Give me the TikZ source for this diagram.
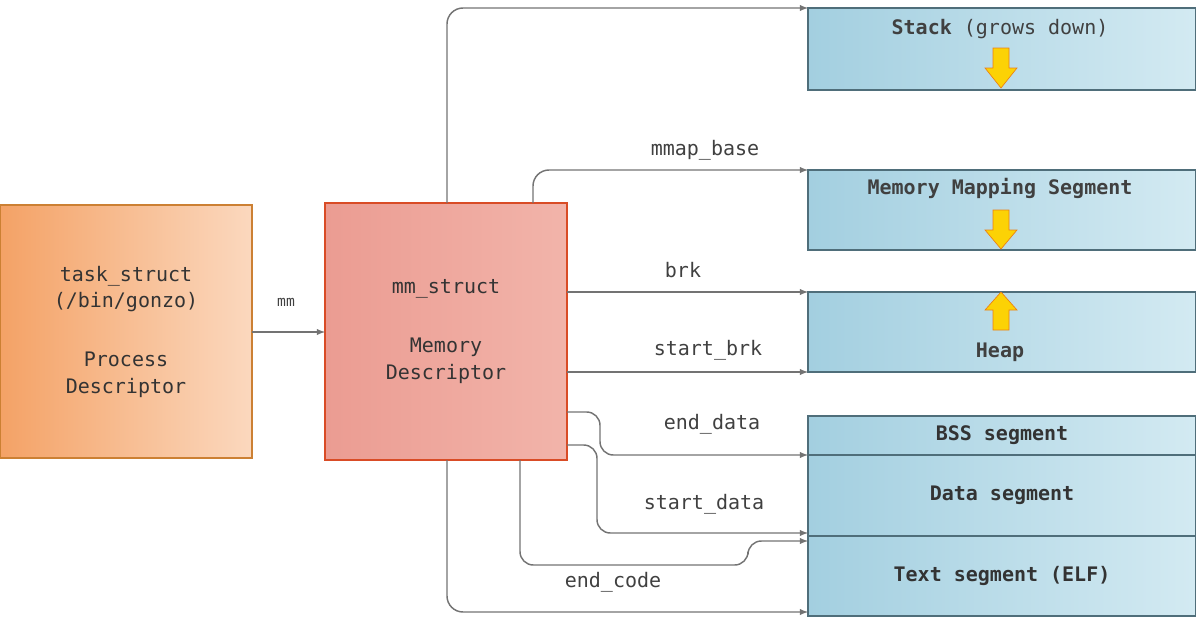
\documentclass[tikz,border=0pt]{standalone}
\usepackage{fontspec}
\setmonofont{DejaVu Sans Mono}
\definecolor{segA}{HTML}{A3CFE0}
\definecolor{segB}{HTML}{D3EAF2}
\definecolor{segD}{HTML}{4F6E7A}
\definecolor{mmA}{HTML}{EB9C92}
\definecolor{mmB}{HTML}{F2B4AA}
\definecolor{tkA}{HTML}{F4A266}
\definecolor{tkB}{HTML}{FBD8BE}
\begin{document}
\begin{tikzpicture}[x=0.75pt,y=-0.75pt,
  seg/.style={draw=segD,line width=1.2pt,left color=segA,right color=segB,minimum width=388*0.75pt,anchor=north west,inner sep=0pt,outer sep=0pt,font=\ttfamily\bfseries\fontsize{15}{17}\selectfont,text=black!80},
  conn/.style={draw=black!55,line width=1.1pt,-latex,rounded corners=12pt},
  lab/.style={font=\ttfamily\fontsize{15}{17}\selectfont,text=black!75},
  yarrow/.style={draw=orange!70!brown,fill=yellow!70!orange,line width=0.5pt}]
\useasboundingbox (0,0) rectangle (1196,628);
\node[draw=brown!80!orange,line width=1pt,left color=tkA,right color=tkB,minimum width=252*0.75pt,minimum height=253*0.75pt,anchor=north west,inner sep=0pt,outer sep=0pt,align=center,font=\ttfamily\fontsize{15}{20}\selectfont,text=black!80] (task) at (0,205) {task\_struct\\(/bin/gonzo)\\[24pt]Process\\Descriptor};
\node[draw=red!40!brown,line width=1pt,left color=mmA,right color=mmB,minimum width=242*0.75pt,minimum height=257*0.75pt,anchor=north west,inner sep=0pt,outer sep=0pt,align=center,font=\ttfamily\fontsize{15}{20}\selectfont,text=black!80] (mm) at (325,203) {mm\_struct\\[24pt]Memory\\Descriptor};
\node[seg,minimum height=82*0.75pt] (stack) at (808,8) {};
\node[lab,font=\ttfamily\bfseries\fontsize{15}{17}\selectfont] (stackt) at (1000,29) {Stack {\mdseries (grows down)}};
\node[seg,minimum height=80*0.75pt] (mms) at (808,170) {};
\node[lab,font=\ttfamily\bfseries\fontsize{15}{17}\selectfont] (mmst) at (1000,188) {Memory Mapping Segment};
\node[seg,minimum height=80*0.75pt] (heap) at (808,292) {};
\node[lab,font=\ttfamily\bfseries\fontsize{15}{17}\selectfont] (heapt) at (1000,352) {Heap};
\node[seg,minimum height=39*0.75pt] (bss) at (808,416) {BSS segment};
\node[seg,minimum height=81*0.75pt] (data) at (808,455) {Data segment};
\node[seg,minimum height=80*0.75pt] (text) at (808,536) {Text segment (ELF)};
% yellow arrows
\draw[yarrow] (993,48) -- (1009,48) -- (1009,68) -- (1017,68) -- (1001,88) -- (985,68) -- (993,68) -- cycle;
\draw[yarrow] (993,210) -- (1009,210) -- (1009,230) -- (1017,230) -- (1001,249) -- (985,230) -- (993,230) -- cycle;
\draw[yarrow] (993,330) -- (1009,330) -- (1009,310) -- (1017,310) -- (1001,292) -- (985,310) -- (993,310) -- cycle;
% connectors
\draw[conn] (task.east |- 0,332) -- (mm.west |- 0,332);
\node[lab,font=\ttfamily\fontsize{11}{13}\selectfont] (mml) at (286,302) {mm};
\draw[conn] (mm.north -| 447,0) -- (447,8) -- (stack.north west);
\draw[conn] (mm.north -| 533,0) -- (533,170) -- (mms.north west);
\node[lab] (l1) at (705,150) {mmap\_base};
\draw[conn] (mm.east |- 0,292) -- (heap.north west);
\node[lab] (l2) at (683,270) {brk};
\draw[conn] (mm.east |- heap.south west) -- (heap.south west);
\node[lab] (l3) at (708,350) {start\_brk};
\draw[conn,rounded corners=10pt] (mm.east |- 0,412) -- (600,412) -- (600,455) -- (bss.south west);
\node[lab] (l4) at (712,424) {end\_data};
\draw[conn,rounded corners=10pt] (mm.east |- 0,445) -- (597,445) -- (597,533) -- (808,533);
\node[lab] (l5) at (704,504) {start\_data};
\draw[conn,rounded corners=10pt] (mm.south -| 520,0) -- (520,565) -- (748,565) -- (748,541) -- (808,541);
\node[lab] (l6) at (613,582) {end\_code};
\draw[conn] (mm.south -| 447,0) -- (447,612) -- (text.west |- 0,612);
\end{tikzpicture}
\end{document}
